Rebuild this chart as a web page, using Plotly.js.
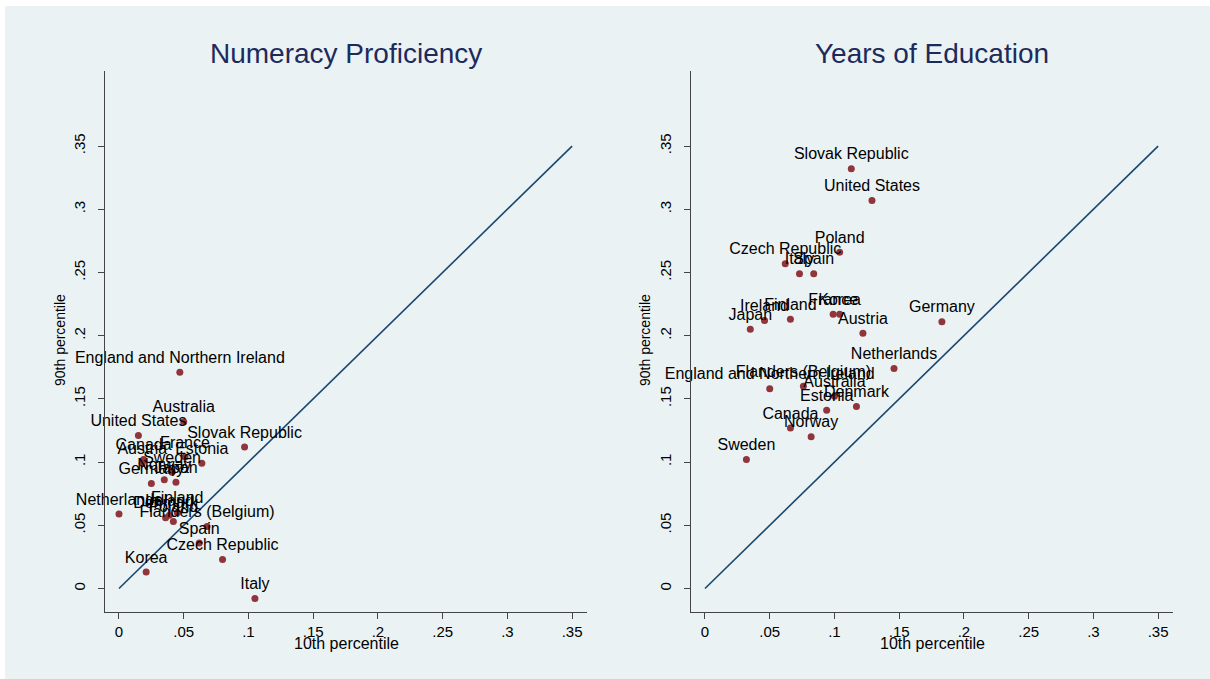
<!DOCTYPE html>
<html>
<head>
<meta charset="utf-8">
<script src="https://cdn.plot.ly/plotly-3.0.1.min.js"></script>
<style>
html,body{margin:0;padding:0;background:#ffffff;}
#chart{width:1210px;height:679px;}
</style>
</head>
<body>
<div id="chart"></div>
<script>
// ---- Data ----
const numCountries = ["England and Northern Ireland","Australia","United States","Slovak Republic","Canada","France","Austria","Estonia","Sweden","Norway","Germany","Japan","Netherlands","Finland","Ireland","Denmark","Poland","Flanders (Belgium)","Spain","Czech Republic","Korea","Italy"];
const numP10 = [0.047,0.050,0.015,0.097,0.019,0.051,0.018,0.064,0.041,0.035,0.025,0.044,0.000,0.045,0.039,0.036,0.042,0.068,0.062,0.080,0.021,0.105];
const numP90 = [0.171,0.132,0.121,0.112,0.102,0.104,0.099,0.099,0.092,0.086,0.083,0.084,0.059,0.060,0.058,0.056,0.053,0.049,0.036,0.023,0.013,-0.008];

const eduCountries = ["Slovak Republic","United States","Poland","Czech Republic","Italy","Spain","France","Korea","Ireland","Finland","Japan","Austria","Germany","Netherlands","England and Northern Ireland","Flanders (Belgium)","Australia","Estonia","Denmark","Canada","Norway","Sweden"];
const eduP10 = [0.113,0.129,0.104,0.062,0.073,0.084,0.099,0.104,0.046,0.066,0.035,0.122,0.183,0.146,0.050,0.076,0.100,0.094,0.117,0.066,0.082,0.032];
const eduP90 = [0.332,0.307,0.266,0.257,0.249,0.249,0.217,0.217,0.212,0.213,0.205,0.202,0.211,0.174,0.158,0.160,0.152,0.141,0.144,0.127,0.120,0.102];

const diagX = [0, 0.35];
const diagY = [0, 0.35];

const tickVals = [0,0.05,0.1,0.15,0.2,0.25,0.3,0.35];
const tickText = ["0",".05",".1",".15",".2",".25",".3",".35"];

const panelTitles = ["Numeracy Proficiency","Years of Education"];
const xTitle = "10th percentile";
const yTitle = "90th percentile";

// ---- Styles ----
const FONT = "Liberation Sans, Arial, Helvetica, sans-serif";
const markerColor = "#90353b";
const lineColor = "#1a476f";
const bg = "#eaf2f3";

function scatterTrace(x, y, txt, xa, ya){
  return {
    type:"scatter", mode:"markers+text", x:x, y:y, text:txt,
    textposition:"top center",
    textfont:{family:FONT, size:16, color:"#000000"},
    marker:{color:markerColor, size:7},
    xaxis:xa, yaxis:ya, hoverinfo:"text", cliponaxis:false
  };
}
function lineTrace(xa, ya){
  return {type:"scatter", mode:"lines", x:diagX, y:diagY,
    line:{color:lineColor, width:1.6}, xaxis:xa, yaxis:ya, hoverinfo:"skip"};
}

const traces = [
  lineTrace("x","y"),
  scatterTrace(numP10, numP90, numCountries, "x","y"),
  lineTrace("x2","y2"),
  scatterTrace(eduP10, eduP90, eduCountries, "x2","y2")
];

const yDom = [1-612/679, 1-71/679];
function xAxis(dom, anchor){
  return {domain:dom, anchor:anchor, range:[-0.0108,0.3615],
    tickvals:tickVals, ticktext:tickText, ticks:"outside", ticklen:6, tickcolor:"#444",
    showgrid:false, zeroline:false, showline:true, linecolor:"#444", linewidth:1,
    tickfont:{family:FONT, size:15, color:"#000"}, fixedrange:true};
}
function yAxis(anchor){
  return {domain:yDom, anchor:anchor, range:[-0.0186,0.4094],
    tickvals:tickVals, ticktext:tickText, ticks:"outside", ticklen:6, tickcolor:"#444",
    tickangle:-90, ticklabelstandoff:7,
    showgrid:true, gridcolor:bg, gridwidth:1, zeroline:false, showline:true, linecolor:"#444", linewidth:1,
    tickfont:{family:FONT, size:15, color:"#000"}, fixedrange:true};
}

const ann = [];
const cx = [346/1210, 932/1210];
const yx = [60/1210, 645/1210];
for(let i=0;i<2;i++){
  ann.push({xref:"paper", yref:"paper", x:cx[i], y:1-54/679, text:panelTitles[i], showarrow:false,
    xanchor:"center", yanchor:"middle", font:{family:FONT, size:28, color:"#1d2b5c"}});
  ann.push({xref:"paper", yref:"paper", x:cx[i], y:1-643/679, text:xTitle, showarrow:false,
    xanchor:"center", yanchor:"middle", font:{family:FONT, size:16, color:"#000"}});
  ann.push({xref:"paper", yref:"paper", x:yx[i], y:1-340/679, text:yTitle, showarrow:false, textangle:-90,
    xanchor:"center", yanchor:"middle", font:{family:FONT, size:14, color:"#000"}});
}

const layout = {
  width:1210, height:679, autosize:false,
  margin:{l:0,r:0,t:0,b:0},
  paper_bgcolor:"#ffffff", plot_bgcolor:"#ffffff",
  showlegend:false,
  xaxis:xAxis([105/1210, 587/1210], "y"),
  yaxis:yAxis("x"),
  xaxis2:xAxis([691/1210, 1173/1210], "y2"),
  yaxis2:yAxis("x2"),
  shapes:[{type:"rect", xref:"paper", yref:"paper", x0:5/1210, x1:1, y0:0, y1:1-6/679,
    fillcolor:bg, line:{width:0}, layer:"below"}],
  annotations:ann
};

Plotly.newPlot("chart", traces, layout, {displayModeBar:false, staticPlot:true});
</script>
</body>
</html>
